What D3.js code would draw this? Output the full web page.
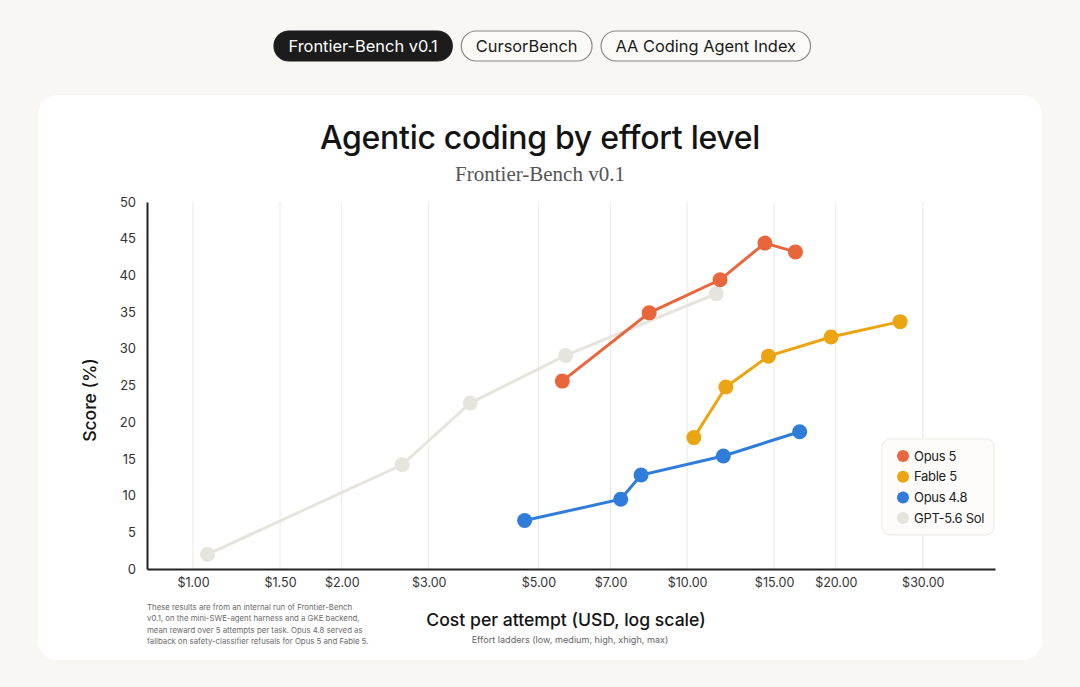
<!DOCTYPE html>
<html>
<head>
<meta charset="utf-8">
<script src="https://cdn.jsdelivr.net/npm/d3@7"></script>
<style>
  html, body { margin: 0; padding: 0; background: #f8f7f3; }
  body { width: 1080px; height: 687px; overflow: hidden; font-family: Inter, "Noto Sans", sans-serif; }
</style>
</head>
<body>
<div id="chart"></div>
<script>
// benchmark tabs shown above the card
const tabs = ["Frontier-Bench v0.1", "CursorBench", "AA Coding Agent Index"]

// one list per model: cost per attempt (USD) and score (%), effort low -> max
const seriesNames = ["Opus 5", "Fable 5", "Opus 4.8", "GPT-5.6 Sol"]
const opus5Cost = [5.59, 8.38, 11.66, 14.37, 16.57]
const opus5Score = [25.6, 34.9, 39.4, 44.4, 43.2]
const fable5Cost = [10.32, 11.98, 14.61, 19.56, 26.99]
const fable5Score = [17.9, 24.8, 29.0, 31.6, 33.7]
const opus48Cost = [4.69, 7.34, 8.07, 11.84, 16.90]
const opus48Score = [6.6, 9.5, 12.8, 15.4, 18.7]
const gptCost = [1.07, 2.65, 3.64, 5.68, 11.45]
const gptScore = [2.0, 14.2, 22.6, 29.1, 37.5]

const xTicks = [1, 1.5, 2, 3, 5, 7, 10, 15, 20, 30]
const yTicks = [0, 5, 10, 15, 20, 25, 30, 35, 40, 45, 50]

const colors = ["#e9663c", "#eca512", "#2f7cdb", "#e5e4dd"]

const series = [
  {name: seriesNames[0], cost: opus5Cost, score: opus5Score, color: colors[0]},
  {name: seriesNames[1], cost: fable5Cost, score: fable5Score, color: colors[1]},
  {name: seriesNames[2], cost: opus48Cost, score: opus48Score, color: colors[2]},
  {name: seriesNames[3], cost: gptCost, score: gptScore, color: colors[3]}
]

const W = 1080, H = 687
const svg = d3.select("#chart").append("svg")
  .attr("width", W).attr("height", H)

// tabs
const tabG = svg.append("g")
let tx = 274
tabs.forEach(function(t, i) {
  const txt = tabG.append("text")
    .attr("x", 0).attr("y", 51.5)
    .attr("font-size", 16.4).attr("fill", i == 0 ? "#fff" : "#1a1a1a")
    .text(t)
  const w = txt.node().getComputedTextLength() + 29
  tabG.insert("rect", "text")
    .attr("x", tx).attr("y", 31).attr("width", w).attr("height", 30)
    .attr("rx", 15)
    .attr("fill", i == 0 ? "#1c1c1c" : "#fbfaf7")
    .attr("stroke", i == 0 ? "#1c1c1c" : "#8a8884").attr("stroke-width", 1.2)
  txt.attr("x", tx + 14.5)
  tx += w + 9
})

// card
svg.append("rect")
  .attr("x", 38).attr("y", 95).attr("width", 1004).attr("height", 565)
  .attr("rx", 20).attr("fill", "#ffffff")

svg.append("text")
  .attr("x", 540).attr("y", 149).attr("text-anchor", "middle")
  .attr("font-size", 32).attr("font-weight", 500).attr("fill", "#141414")
  .attr("letter-spacing", -0.3)
  .text("Agentic coding by effort level")

svg.append("text")
  .attr("x", 540).attr("y", 181).attr("text-anchor", "middle")
  .attr("font-family", "'Liberation Serif', 'DejaVu Serif', serif")
  .attr("font-size", 21).attr("fill", "#555")
  .text("Frontier-Bench v0.1")

// plot area
const plotL = 147, plotR = 995, plotT = 202, plotB = 569

const x = d3.scaleLog()
  .domain([0.807, 42])
  .range([plotL, plotR])

const y = d3.scaleLinear()
  .domain([0, 50])
  .range([plotB, plotT])

// vertical gridlines
svg.append("g")
  .selectAll("line")
  .data(xTicks)
  .join("line")
    .attr("x1", d => x(d)).attr("x2", d => x(d))
    .attr("y1", plotT).attr("y2", plotB)
    .attr("stroke", "#ebe9e4").attr("stroke-width", 1)

const xAxis = svg.append("g")
  .attr("transform", `translate(0, ${plotB})`)
  .call(d3.axisBottom(x).tickValues(xTicks).tickSize(0).tickPadding(9)
    .tickFormat(d => "$" + d3.format(".2f")(d)))
xAxis.select(".domain").attr("stroke", "#222").attr("stroke-width", 2)
xAxis.selectAll("text").attr("font-size", 12.5).attr("fill", "#333")
  .attr("font-family", "Inter, sans-serif")

const yAxis = svg.append("g")
  .attr("transform", `translate(${plotL}, 0)`)
  .call(d3.axisLeft(y).tickValues(yTicks).tickSize(0).tickPadding(11))
yAxis.select(".domain").attr("stroke", "#222").attr("stroke-width", 2)
yAxis.selectAll("text").attr("font-size", 13).attr("fill", "#333")
  .attr("font-family", "Inter, sans-serif")

svg.append("text")
  .attr("transform", "translate(96, 400) rotate(-90)")
  .attr("text-anchor", "middle")
  .attr("font-size", 17.5).attr("font-weight", 500).attr("fill", "#141414")
  .text("Score (%)")

svg.append("text")
  .attr("x", 566).attr("y", 626).attr("text-anchor", "middle")
  .attr("font-size", 17.6).attr("font-weight", 500).attr("fill", "#141414")
  .text("Cost per attempt (USD, log scale)")

svg.append("text")
  .attr("x", 570).attr("y", 643).attr("text-anchor", "middle")
  .attr("font-size", 9.1).attr("fill", "#666")
  .text("Effort ladders (low, medium, high, xhigh, max)")

// footnote
const notes = [
  "These results are from an internal run of Frontier-Bench",
  "v0.1, on the mini-SWE-agent harness and a GKE backend,",
  "mean reward over 5 attempts per task. Opus 4.8 served as",
  "fallback on safety-classifier refusals for Opus 5 and Fable 5."
]
svg.append("g").selectAll("text")
  .data(notes)
  .join("text")
    .attr("x", 147).attr("y", (d, i) => 610 + i * 11.3)
    .attr("font-size", 7.8).attr("fill", "#6b6b6b")
    .text(d => d)

// series lines and markers, drawn back to front
const line = d3.line()
  .x(d => x(d[0]))
  .y(d => y(d[1]))

const drawOrder = [3, 2, 1, 0]
drawOrder.forEach(function(k) {
  const s = series[k]
  const pts = s.cost.map((c, i) => [c, s.score[i]])
  const g = svg.append("g")
  g.append("path")
    .datum(pts)
    .attr("d", line)
    .attr("fill", "none")
    .attr("stroke", s.color).attr("stroke-width", 3)
  g.selectAll("circle")
    .data(pts)
    .join("circle")
      .attr("cx", d => x(d[0])).attr("cy", d => y(d[1]))
      .attr("r", 7.5)
      .attr("fill", s.color)
})

// legend
const lg = svg.append("g").attr("transform", "translate(882, 439)")
lg.append("rect")
  .attr("width", 112).attr("height", 96).attr("rx", 8)
  .attr("fill", "#fdfcfa").attr("stroke", "#ebe9e4")
series.forEach(function(s, i) {
  lg.append("circle")
    .attr("cx", 21).attr("cy", 17 + i * 20.7).attr("r", 6)
    .attr("fill", s.color)
  lg.append("text")
    .attr("x", 32).attr("y", 17 + i * 20.7 + 4.5)
    .attr("font-size", 13).attr("fill", "#222")
    .attr("letter-spacing", -0.3)
    .text(s.name)
})
</script>
</body>
</html>
